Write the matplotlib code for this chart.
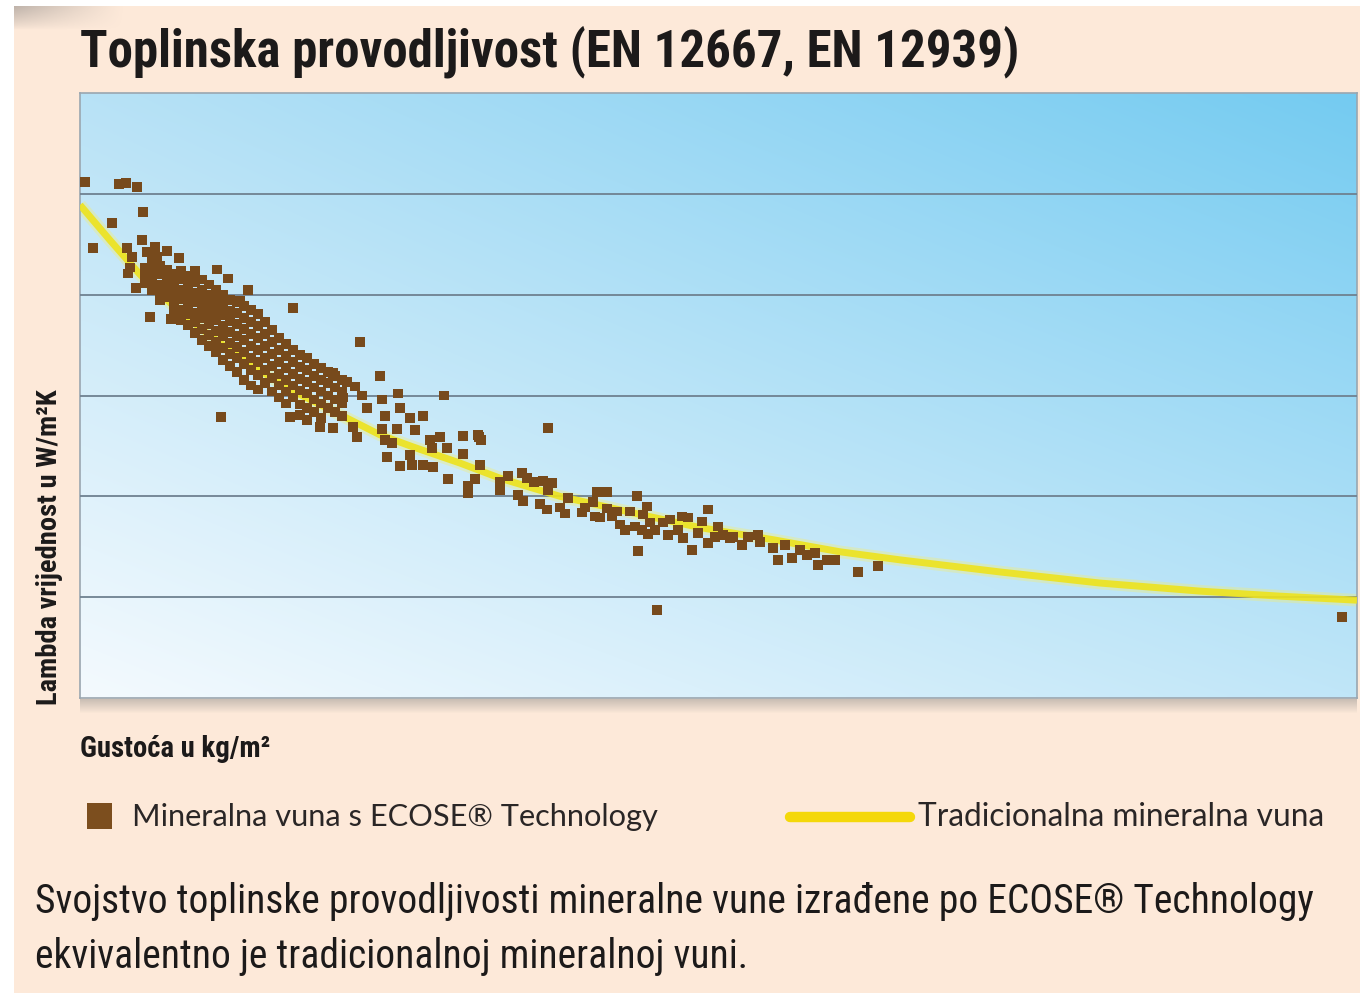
import numpy as np
import matplotlib
matplotlib.use("Agg")
import matplotlib.pyplot as plt
from matplotlib import font_manager as fm
from matplotlib.patches import Rectangle
from matplotlib.lines import Line2D

# ---------------- data (arbitrary units) ----------------
# Traditional mineral wool curve: density vs lambda
trad_density = [0, 3, 6, 9, 12, 15, 18, 21, 24, 27, 30, 33.3, 38, 42, 48, 56, 62,
                69.3, 76, 82, 92, 102, 112, 120, 127.7]
trad_lambda = [48.9, 45.4, 42.0, 39.2, 36.7, 34.5, 32.5, 30.6, 29.1, 27.6, 26.1, 24.9,
               23.3, 21.8, 20.0, 18.2, 16.9, 15.7, 14.5, 13.7, 12.5, 11.4, 10.6, 10.1, 9.7]

# ECOSE samples: scattered outliers at low density
ecose_sparse = [(0.5, 51.2), (3.9, 51.0), (4.6, 51.1), (5.7, 50.7), (6.3, 48.2), (3.2, 47.1),
                (1.3, 44.6), (4.7, 44.6), (6.2, 45.4), (5.2, 43.7), (5.0, 42.7), (4.8, 42.1),
                (5.6, 40.7), (7.0, 37.8), (9.1, 37.6), (6.7, 44.2), (7.5, 44.7), (8.7, 44.3),
                (7.7, 43.7), (9.9, 43.6), (11.5, 42.4), (13.7, 42.5), (14.8, 41.6), (16.8, 40.5),
                (16.0, 39.4), (21.3, 38.7), (28.0, 35.3), (30.0, 31.9), (14.1, 27.9), (36.4, 30.0),
                (46.8, 26.8)]

# ECOSE samples: dense cluster (density, list of lambda values read per density column)
cluster_density = [6.5, 7.2, 8.0, 8.7, 9.4, 10.1, 10.8, 11.5, 12.2, 12.9, 13.6, 14.3, 15.0,
                   15.7, 16.4, 17.1, 17.8, 18.5, 19.2, 19.9, 20.6, 21.3, 22.0, 22.7, 23.4,
                   24.1, 24.8, 25.5, 26.2]
cluster_lambda = [
    [42.7, 41.9, 41.1],
    [43.2, 42.3, 41.4, 40.5],
    [42.9, 42.0, 41.0, 40.1, 39.5],
    [42.5, 41.6, 40.7, 39.8],
    [42.1, 41.2, 40.3, 39.4, 38.6],
    [42.4, 41.5, 40.5, 39.6, 38.5, 37.5],
    [41.9, 41.0, 40.1, 39.1, 38.1, 37.0],
    [42.1, 41.2, 40.2, 39.3, 38.2, 37.3, 36.2],
    [41.5, 40.5, 39.6, 38.6, 37.7, 36.6, 35.5],
    [41.0, 40.0, 39.1, 38.1, 37.1, 36.0, 34.9],
    [40.5, 39.5, 38.5, 37.5, 36.4, 35.3, 34.3],
    [40.0, 39.0, 38.0, 36.9, 35.9, 34.7, 33.5],
    [39.5, 38.4, 37.4, 36.3, 35.2, 34.1, 32.9],
    [39.3, 38.2, 37.1, 35.9, 34.8, 33.7, 32.3],
    [38.9, 37.7, 36.6, 35.5, 34.3, 33.1, 31.5],
    [38.5, 37.3, 36.1, 34.9, 33.7, 32.5, 31.0],
    [38.1, 36.9, 35.7, 34.5, 33.3, 32.0, 30.6],
    [37.3, 36.1, 34.9, 33.7, 32.5, 31.2],
    [36.5, 35.3, 34.1, 32.9, 31.7, 30.4],
    [35.7, 34.5, 33.3, 32.1, 31.0, 29.8],
    [35.1, 33.9, 32.7, 31.5, 30.4, 29.2],
    [34.5, 33.3, 32.1, 31.0, 29.8],
    [34.0, 32.8, 31.6, 30.5, 29.1],
    [33.7, 32.5, 31.3, 30.2, 28.8],
    [33.1, 31.9, 30.8, 29.6, 28.4],
    [32.7, 31.5, 30.4, 29.2, 27.8],
    [32.3, 31.2, 30.0, 28.8],
    [31.9, 30.8, 29.6, 28.4],
    [31.5, 30.4, 29.2, 28.0],
]

# ECOSE samples: medium / high density tail
ecose_tail = [(31.8, 30.2), (30.2, 29.6), (32.0, 28.8), (33.0, 27.8), (30.5, 28.0), (30.2, 26.7),
              (31.7, 26.7), (33.5, 26.6), (27.3, 26.9), (27.7, 25.9), (28.7, 28.8), (28.2, 30.0),
              (26.3, 29.8), (27.5, 30.9), (25.3, 32.2), (26.7, 31.3), (30.5, 25.6), (31.2, 25.3),
              (30.7, 23.9), (33.0, 24.1), (24.0, 26.9), (25.3, 26.8), (21.0, 27.9), (22.7, 27.6),
              (22.0, 28.1), (34.3, 28.0), (35.0, 25.6), (36.0, 25.9), (38.3, 26.0), (39.9, 25.9),
              (40.1, 25.6), (35.2, 24.8), (36.7, 24.8), (38.3, 24.2), (32.0, 23.0), (33.2, 23.1),
              (34.3, 23.1), (35.3, 22.9), (40.0, 23.1), (39.8, 26.1), (36.8, 21.7), (38.8, 21.0),
              (38.8, 20.3), (39.5, 21.7), (42.0, 21.4), (42.0, 20.6), (42.8, 22.0), (43.8, 20.1),
              (44.3, 19.5), (44.2, 22.3), (44.7, 21.8), (45.4, 21.4), (46.3, 21.5), (47.2, 21.3),
              (46.8, 20.6), (46.0, 19.2), (46.7, 18.7), (48.0, 18.9), (48.5, 18.3), (48.8, 19.8),
              (50.2, 18.4), (50.5, 18.9), (51.3, 19.4), (51.7, 20.4), (52.7, 20.4), (51.5, 18.0),
              (52.0, 17.9), (52.7, 18.8), (53.2, 18.0), (53.7, 18.5), (55.0, 18.5), (55.7, 20.0),
              (56.7, 19.0), (54.0, 17.2), (54.5, 16.7), (55.5, 17.0), (56.2, 16.7), (57.0, 17.4),
              (57.5, 16.7), (58.3, 17.4), (59.0, 17.7), (58.8, 16.2), (59.8, 16.7), (55.8, 14.6),
              (57.7, 8.7), (56.3, 18.2), (56.8, 16.3), (60.2, 18.0), (60.8, 17.9), (60.3, 15.9),
              (61.2, 14.7), (62.2, 17.5), (61.8, 16.4), (62.8, 18.7), (62.8, 15.4), (63.8, 17.0),
              (63.5, 16.0), (64.3, 16.2), (65.0, 15.9), (65.3, 16.0), (66.2, 15.2), (66.8, 16.0),
              (67.8, 16.2), (68.0, 15.5), (69.3, 14.9), (70.5, 15.2), (69.8, 13.7), (71.2, 13.9),
              (72.0, 14.7), (72.7, 14.2), (73.5, 14.4), (73.8, 13.2), (74.7, 13.7), (75.5, 13.7),
              (77.8, 12.5), (79.8, 13.1), (126.2, 8.0)]

grid_levels = [10, 20, 30, 40, 50]

title = "Toplinska provodljivost (EN 12667, EN 12939)"
y_label = "Lambda vrijednost u W/m\u00b2K"
x_label = "Gusto\u0107a u kg/m\u00b2"
legend_ecose = "Mineralna vuna s ECOSE\u00ae Technology"
legend_trad = "Tradicionalna mineralna vuna"
caption_1 = "Svojstvo toplinske provodljivosti mineralne vune izra\u0111ene po ECOSE\u00ae Technology"
caption_2 = "ekvivalentno je tradicionalnoj mineralnoj vuni."

# ---------------- fonts ----------------
names = {f.name for f in fm.fontManager.ttflist}
dv_condensed = any(f.name == "DejaVu Sans" and str(f.stretch) in ("condensed", "semi-condensed")
                   for f in fm.fontManager.ttflist)
if "Liberation Sans Narrow" in names:
    cond_family, cond_stretch = "Liberation Sans Narrow", "normal"
elif "Roboto Condensed" in names:
    cond_family, cond_stretch = "Roboto Condensed", "normal"
elif dv_condensed:
    cond_family, cond_stretch = "DejaVu Sans", "condensed"
else:
    cond_family, cond_stretch = "Liberation Sans", "normal"
reg_family = "Lato" if "Lato" in names else "DejaVu Sans"

# ---------------- figure ----------------
W, H = 1360, 993
BG = "#fde9d9"
fig = plt.figure(figsize=(W / 100, H / 100), dpi=100, facecolor=BG)

def fx(px):
    return px / W

def fy(py):
    return 1 - py / H

# white page margin (left / top) and grey corner shading
fig.patches.append(Rectangle((0, 0), fx(14), 1, transform=fig.transFigure,
                             color="white", lw=0, zorder=0))
fig.patches.append(Rectangle((0, fy(6)), 1, 6 / H, transform=fig.transFigure,
                             color="white", lw=0, zorder=0))
sh_ax = fig.add_axes([fx(14), fy(30), fx(260) - fx(14), 24 / H], zorder=-1)
gu = np.linspace(0, 1, 200)[None, :]
gv = np.linspace(0, 1, 30)[:, None]
alpha = np.clip(1 - gu / 0.45, 0, 1) ** 1.2 * np.clip(1 - gv, 0, 1) ** 0.8 * 0.55
shade = np.zeros((30, 200, 4))
shade[..., 0] = 0.55
shade[..., 1] = 0.53
shade[..., 2] = 0.52
shade[..., 3] = alpha
sh_ax.imshow(shade, aspect="auto", origin="upper", interpolation="bilinear")
sh_ax.set_axis_off()

ax = fig.add_axes([fx(80), fy(698), fx(1357) - fx(80), fy(93) - fy(698)])
xmin, xmax, ymin, ymax = 0, 127.7, 0, 60
ax.set_xlim(xmin, xmax)
ax.set_ylim(ymin, ymax)

# gradient background (white bottom-left -> blue top-right)
nx, ny = 200, 120
u = np.linspace(0, 1, nx)[None, :]
v = np.linspace(0, 1, ny)[:, None]
c_bl = np.array([0xf4, 0xfa, 0xfe]) / 255
c_br = np.array([0xc0, 0xe6, 0xf8]) / 255
c_tl = np.array([0xb8, 0xe2, 0xf6]) / 255
c_tr = np.array([0x74, 0xcb, 0xf1]) / 255
uu = u[..., None]
vv = v[..., None]
img = (c_bl * (1 - uu) * (1 - vv) + c_br * uu * (1 - vv) + c_tl * (1 - uu) * vv + c_tr * uu * vv)
ax.imshow(img, extent=[xmin, xmax, ymin, ymax], origin="lower", aspect="auto",
          interpolation="bilinear", zorder=0)

ax.set_yticks(grid_levels)
ax.set_xticks([])
ax.tick_params(left=False, labelleft=False, bottom=False, labelbottom=False)
ax.grid(axis="y", color="#6f8190", lw=1.3, zorder=1)
ax.set_axisbelow(False)
for s in ax.spines.values():
    s.set_color("#9aa6b0")
    s.set_linewidth(1.2)

# traditional curve
ax.plot(trad_density, trad_lambda, color="#f6ee6a", lw=9, alpha=0.35,
        solid_capstyle="butt", zorder=2)
ax.plot(trad_density, trad_lambda, color="#eee31c", lw=5, alpha=0.9,
        solid_capstyle="butt", zorder=3)

# ECOSE scatter
cx, cy = [], []
for d, ls in zip(cluster_density, cluster_lambda):
    for l in ls:
        cx.append(d)
        cy.append(l)
sx = [p[0] for p in ecose_sparse] + cx + [p[0] for p in ecose_tail]
sy = [p[1] for p in ecose_sparse] + cy + [p[1] for p in ecose_tail]
ax.scatter(sx, sy, marker="s", s=50, color="#774a1c", edgecolors="none", zorder=4)

# shadow under the plot area
for i in range(14):
    fig.patches.append(Rectangle((fx(80), fy(699 + i + 1)), fx(1357) - fx(80), 1 / H,
                                 transform=fig.transFigure, color="#8c8a88",
                                 alpha=0.45 * (1 - i / 14), lw=0, zorder=0))

# ---------------- texts ----------------
tcol = "#1c1a1a"
t_title = fig.text(fx(80), fy(66), title, fontsize=34, fontweight="bold",
                   family=cond_family, stretch=cond_stretch, color=tcol,
                   ha="left", va="baseline")
t_ylab = fig.text(fx(50), fy(705), y_label, fontsize=15, fontweight="bold",
                  family=cond_family, stretch=cond_stretch, color=tcol,
                  rotation=90, ha="center", va="bottom")
t_xlab = fig.text(fx(80), fy(757), x_label, fontsize=15, fontweight="bold",
                  family=cond_family, stretch=cond_stretch, color=tcol,
                  ha="left", va="baseline")
t_leg1 = fig.text(fx(132), fy(826), legend_ecose, fontsize=19, family=reg_family,
                  color="#2a2626", ha="left", va="baseline")
t_leg2 = fig.text(fx(918), fy(826), legend_trad, fontsize=19, family=reg_family,
                  color="#2a2626", ha="left", va="baseline")
t_cap1 = fig.text(fx(35), fy(913), caption_1, fontsize=27, family=cond_family,
                  stretch=cond_stretch, color=tcol, ha="left", va="baseline")
t_cap2 = fig.text(fx(35), fy(968), caption_2, fontsize=27, family=cond_family,
                  stretch=cond_stretch, color=tcol, ha="left", va="baseline")

# legend marks
fig.patches.append(Rectangle((fx(87), fy(829)), fx(112) - fx(87), (829 - 803) / H,
                             transform=fig.transFigure, color="#7c4e1e", lw=0))
fig.lines.append(Line2D([fx(790), fx(910)], [fy(817), fy(817)], transform=fig.transFigure,
                        color="#f4d80a", lw=7.5, solid_capstyle="round"))

# fit text widths to the reference layout
fig.canvas.draw()
r = fig.canvas.get_renderer()
def fit(t, target, vertical=False):
    bb = t.get_window_extent(r)
    size = bb.height if vertical else bb.width
    t.set_fontsize(t.get_fontsize() * target / size)

fit(t_title, 940)
fit(t_ylab, 315, vertical=True)
fit(t_xlab, 190)
fit(t_leg1, 526)
fit(t_leg2, 407)
fit(t_cap1, 1275)
t_cap2.set_fontsize(t_cap1.get_fontsize())

fig.savefig("out.png", dpi=100, facecolor=BG)
